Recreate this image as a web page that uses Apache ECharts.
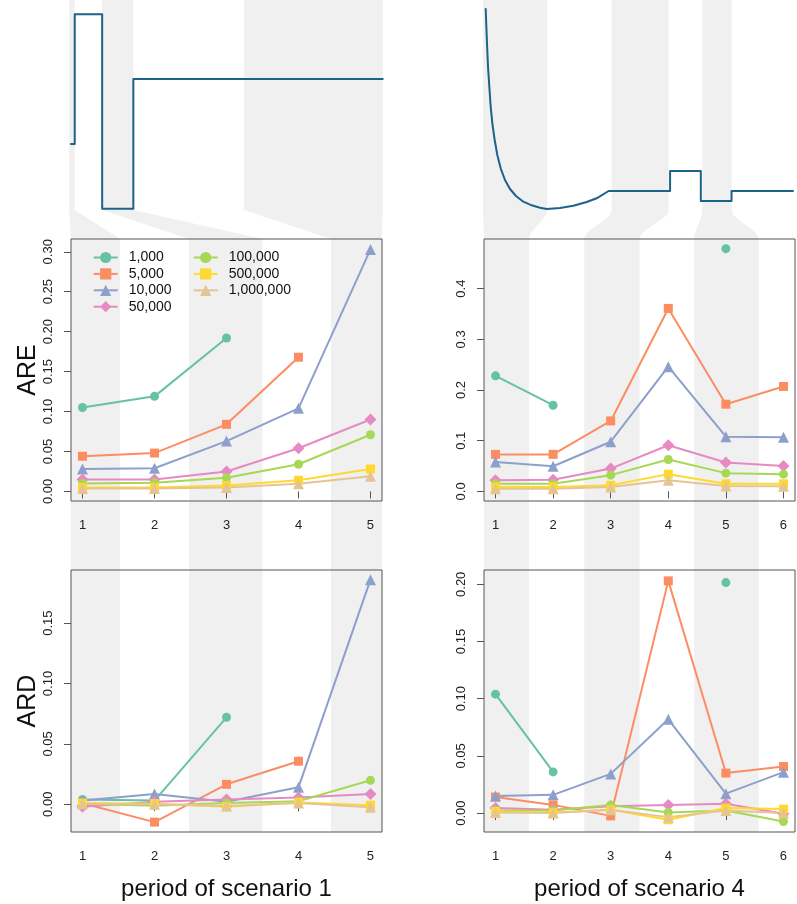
<!DOCTYPE html>
<html><head><meta charset="utf-8">
<script src="https://cdn.jsdelivr.net/npm/echarts@6/dist/echarts.min.js"></script>
<style>html,body{margin:0;padding:0;background:#fff}#c{width:797px;height:904px}</style>
</head><body><div id="c"></div>
<script>
// ---------- data ----------
const sizes = ['1,000','5,000','10,000','50,000','100,000','500,000','1,000,000'];
const periodsS1 = [1,2,3,4,5];
const periodsS4 = [1,2,3,4,5,6];

// ARE, scenario 1 (rows follow `sizes`)
const areS1 = [
  [0.105, 0.119, 0.192, null, null],
  [0.044, 0.048, 0.084, 0.168, null],
  [0.028, 0.029, 0.063, 0.104, 0.303],
  [0.015, 0.015, 0.025, 0.054, 0.090],
  [0.010, 0.011, 0.017, 0.034, 0.071],
  [0.005, 0.005, 0.0075, 0.014, 0.028],
  [0.0035, 0.0035, 0.005, 0.0095, 0.019]
];
// ARE, scenario 4
const areS4 = [
  [0.228, 0.170, null, null, 0.479, null],
  [0.073, 0.073, 0.139, 0.361, 0.172, 0.207],
  [0.058, 0.0495, 0.098, 0.246, 0.108, 0.107],
  [0.022, 0.023, 0.045, 0.091, 0.057, 0.050],
  [0.015, 0.015, 0.032, 0.063, 0.036, 0.034],
  [0.0086, 0.0086, 0.012, 0.034, 0.015, 0.015],
  [0.0053, 0.0053, 0.0086, 0.022, 0.0106, 0.0099]
];
// ARD, scenario 1
const ardS1 = [
  [0.004, 0.003, 0.072, null, null],
  [0.0008, -0.0148, 0.0165, 0.0356, null],
  [0.003, 0.0085, 0.002, 0.014, 0.186],
  [-0.002, 0.002, 0.004, 0.0055, 0.0085],
  [0.0003, -0.0012, 0.001, 0.0025, 0.0198],
  [0.001, 0.0005, -0.002, 0.0015, -0.0008],
  [0.0005, 0.0, -0.0015, 0.001, -0.0025]
];
// ARD, scenario 4
const ardS4 = [
  [0.104, 0.036, null, null, 0.2015, null],
  [0.014, 0.0072, -0.0024, 0.203, 0.035, 0.0407],
  [0.015, 0.016, 0.0343, 0.082, 0.017, 0.0358],
  [0.0044, 0.003, 0.006, 0.0072, 0.0081, -0.0006],
  [0.0023, 0.0023, 0.0072, 0.0005, 0.0023, -0.0073],
  [0.0015, 0.0005, 0.0029, -0.0058, 0.0044, 0.0035],
  [0.0005, 0.0, 0.0029, -0.0035, 0.0023, 0.0]
];

// top panels: population trajectory over time
const topS1Time  = [0, 1.2, 1.2, 10, 10, 20, 20, 100];
const topS1Value = [0.5, 0.5, 1.0, 1.0, 0.25, 0.25, 0.75, 0.75];
const topS4Time  = [0, 0.21, 0.42, 0.75, 1.18, 1.62, 2.16, 2.92, 3.78, 4.87, 6.28, 7.91, 9.86, 12.25, 14.96, 17.67, 19.84,
                    24.18, 28.52, 32.86, 36.11, 40, 60, 60, 70, 70, 80, 80, 100];
const topS4Value = [2.82, 2.643, 2.477, 2.243, 2.043, 1.843, 1.677, 1.51, 1.36, 1.227, 1.11, 1.02, 0.95, 0.893, 0.857, 0.833, 0.82,
                    0.83, 0.853, 0.89, 0.927, 1.0, 1.0, 1.2, 1.2, 0.9, 0.9, 1.0, 1.0];
// period boundaries on the time axis
const boundsS1 = [0, 1.2, 10, 20, 55.5, 100];
const boundsS4 = [0, 20, 41, 59.5, 70.5, 80, 100];
// shaded (odd) period bands on the period axis
const bandsS1 = [[0.5, 1.52], [2.48, 3.5], [4.45, 5.5]];
const bandsS4 = [[0.5, 1.58], [2.54, 3.5], [4.45, 5.57]];

// ---------- style ----------
const colors = ['#66C2A5','#FC8D62','#8DA0CB','#E78AC3','#A6D854','#FFD92F','#E5C494'];
const symbols = ['circle','rect','triangle','diamond','circle','rect','triangle'];
const symSizes = [9, 9, 11, 12, 9, 9, 11];
const FONT = 'Liberation Sans, Arial, Helvetica, sans-serif';
const BAND = '#F0F0F0';
const BOX = '#555555';
const TOPLINE = '#1B6388';

const G = {
  topL: {left: 69.3, top: 0, width: 313.4, height: 210},
  topR: {left: 483, top: 0, width: 310, height: 210},
  areL: {left: 71, top: 239, width: 311, height: 262},
  areR: {left: 484, top: 239, width: 311, height: 262},
  ardL: {left: 71, top: 570, width: 311, height: 262},
  ardR: {left: 484, top: 570, width: 311, height: 262}
};

const chart = echarts.init(document.getElementById('c'), null, {renderer: 'canvas', width: 797, height: 904});

function grid(g, show) {
  return Object.assign({}, g, {show: !!show, borderColor: BOX, borderWidth: 1, backgroundColor: 'transparent', containLabel: false});
}
function ticks(a, b, step) { const r = []; for (let v = a; v <= b + 1e-9; v += step) r.push(+v.toFixed(4)); return r; }

function periodXAxis(gi, min, max, vals, name) {
  return {
    type: 'value', gridIndex: gi, min: min, max: max,
    axisLine: {show: false}, splitLine: {show: false},
    axisTick: {show: true, length: 7, inside: false, lineStyle: {color: BOX, width: 1}, customValues: vals},
    axisLabel: {show: true, margin: 18, fontSize: 13, fontFamily: FONT, color: '#222', customValues: vals, formatter: v => String(v)},
    name: name || '', nameLocation: 'middle', nameGap: 45,
    nameTextStyle: {fontSize: 24, fontFamily: FONT, color: '#111'}
  };
}
function valueYAxis(gi, min, max, vals, dec, name) {
  return {
    type: 'value', gridIndex: gi, min: min, max: max,
    axisLine: {show: false}, splitLine: {show: false},
    axisTick: {show: true, length: 7, lineStyle: {color: BOX, width: 1}, customValues: vals},
    axisLabel: {show: true, rotate: 90, margin: 16, fontSize: 13, fontFamily: FONT, color: '#222', customValues: vals, formatter: v => v.toFixed(dec)},
    name: name || '', nameLocation: 'middle', nameRotate: 90, nameGap: 16,
    nameTextStyle: {fontSize: 25, fontFamily: FONT, color: '#111'}
  };
}

const xAxes = [
  {type: 'value', gridIndex: 0, min: -0.545, max: 100, show: false},
  {type: 'value', gridIndex: 1, min: -0.88, max: 100, show: false},
  periodXAxis(2, 0.84, 5.16, periodsS1),
  periodXAxis(3, 0.8, 6.2, periodsS4),
  periodXAxis(4, 0.84, 5.16, periodsS1, 'period of scenario 1'),
  periodXAxis(5, 0.8, 6.2, periodsS4, 'period of scenario 4')
];
const yAxes = [
  {type: 'value', gridIndex: 0, min: 0.245, max: 1.055, show: false},
  {type: 'value', gridIndex: 1, min: 0.81, max: 2.91, show: false},
  valueYAxis(2, -0.012, 0.316, ticks(0, 0.3, 0.05), 2, 'ARE'),
  valueYAxis(3, -0.019, 0.498, ticks(0, 0.4, 0.1), 1),
  valueYAxis(4, -0.023, 0.194, ticks(0, 0.15, 0.05), 2, 'ARD'),
  valueYAxis(5, -0.0165, 0.2125, ticks(0, 0.2, 0.05), 2)
];

const series = [];
function topSeries(idx, t, v) {
  series.push({
    type: 'line', xAxisIndex: idx, yAxisIndex: idx, showSymbol: false, silent: true,
    data: t.map((x, i) => [x, v[i]]),
    lineStyle: {color: TOPLINE, width: 2, cap: 'round', join: 'round'}, itemStyle: {color: TOPLINE}
  });
}
topSeries(0, topS1Time, topS1Value);
topSeries(1, topS4Time, topS4Value);

function panelSeries(idx, periods, rows) {
  rows.forEach((row, k) => {
    series.push({
      type: 'line', name: sizes[k], xAxisIndex: idx, yAxisIndex: idx,
      data: periods.map((p, i) => [p, row[i] === null ? '-' : row[i]]),
      symbol: symbols[k], symbolSize: symSizes[k], showSymbol: true, showAllSymbol: true,
      connectNulls: false, clip: false,
      lineStyle: {color: colors[k], width: 2},
      itemStyle: {color: colors[k]},
      emphasis: {disabled: true}
    });
  });
}
panelSeries(2, periodsS1, areS1);
panelSeries(3, periodsS4, areS4);
panelSeries(4, periodsS1, ardS1);
panelSeries(5, periodsS4, ardS4);

const legendBase = {
  orient: 'vertical', itemWidth: 24, itemHeight: 14, itemGap: 2.4,
  textStyle: {fontSize: 14, fontFamily: FONT, color: '#111', padding: [0, 0, 0, 6]},
  lineStyle: {width: 2},
  selectedMode: false, padding: 0
};

chart.setOption({
  animation: false,
  backgroundColor: '#ffffff',
  grid: [grid(G.topL), grid(G.topR), grid(G.areL, true), grid(G.areR, true), grid(G.ardL, true), grid(G.ardR, true)],
  xAxis: xAxes,
  yAxis: yAxes,
  legend: [
    Object.assign({}, legendBase, {data: sizes.slice(0, 4), left: 92.7, top: 250.5}),
    Object.assign({}, legendBase, {data: sizes.slice(4), left: 192.7, top: 250.5})
  ],
  series: series
});

// ---------- shaded period bands and connectors ----------
const graphics = [];
const lowTop = G.areL.top, lowBottom = G.ardL.top + G.ardL.height;
const topBottom = G.topL.top + G.topL.height;

function buildBands(topIdx, lowIdx, bounds, bands, topMin, topMax, lowMin, lowMax, curved) {
  bands.forEach((b, j) => {
    const pi = j * 2; // odd periods 1,3,5 -> index 0,2,4
    const t0 = Math.max(bounds[pi], topMin), t1 = Math.min(bounds[pi + 1], topMax);
    const tx0 = chart.convertToPixel({xAxisIndex: topIdx}, pi === 0 ? topMin : t0);
    const tx1 = chart.convertToPixel({xAxisIndex: topIdx}, t1);
    const l0 = Math.max(b[0], lowMin), l1 = Math.min(b[1], lowMax);
    const lx0 = chart.convertToPixel({xAxisIndex: lowIdx}, l0);
    const lx1 = chart.convertToPixel({xAxisIndex: lowIdx}, l1);
    graphics.push({type: 'rect', silent: true, z: -10, shape: {x: tx0, y: 0, width: tx1 - tx0, height: topBottom}, style: {fill: BAND}});
    graphics.push({type: 'rect', silent: true, z: -10, shape: {x: lx0, y: lowTop, width: lx1 - lx0, height: lowBottom - lowTop}, style: {fill: BAND}});
    const pts = [];
    const n = curved ? 16 : 1;
    for (let i = 0; i <= n; i++) {
      const t = i / n, s = curved ? (3 * t * t - 2 * t * t * t) : t;
      pts.push([tx1 + (lx1 - tx1) * s, topBottom + (lowTop - topBottom) * t]);
    }
    for (let i = n; i >= 0; i--) {
      const t = i / n, s = curved ? (3 * t * t - 2 * t * t * t) : t;
      pts.push([tx0 + (lx0 - tx0) * s, topBottom + (lowTop - topBottom) * t]);
    }
    graphics.push({type: 'polygon', silent: true, z: -10, shape: {points: pts}, style: {fill: BAND}});
  });
}
buildBands(0, 2, boundsS1, bandsS1, -0.545, 100, 0.84, 5.16, false);
buildBands(1, 3, boundsS4, bandsS4, -0.88, 100, 0.8, 6.2, true);

chart.setOption({graphic: {elements: graphics}});
</script>
</body></html>
